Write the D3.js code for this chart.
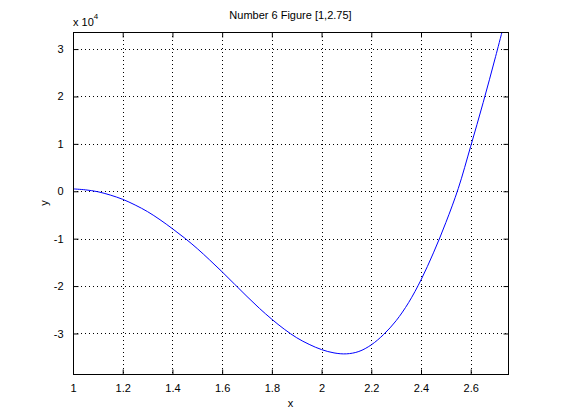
<!DOCTYPE html>
<html><head><meta charset="utf-8">
<script src="https://cdn.jsdelivr.net/npm/d3@7"></script>
<style>body{margin:0;background:#fff}svg{display:block}text{font-family:"Liberation Sans",Arial,sans-serif;font-size:11px;fill:#000}</style>
</head><body><svg id="c" width="561" height="420"></svg>
<script>
const xValues = [1.00,1.05,1.10,1.15,1.20,1.25,1.30,1.35,1.40,1.45,1.50,1.55,1.60,1.65,1.70,1.75,1.80,1.85,1.90,1.95,2.00,2.05,2.10,2.15,2.20,2.25,2.30,2.35,2.40,2.45,2.50,2.55,2.60,2.65,2.70,2.75];
const yValues = [0.05,0.03,-0.01,-0.08,-0.17,-0.29,-0.43,-0.60,-0.79,-0.99,-1.21,-1.45,-1.70,-1.96,-2.22,-2.47,-2.70,-2.91,-3.09,-3.23,-3.34,-3.41,-3.43,-3.38,-3.24,-3.02,-2.73,-2.35,-1.87,-1.30,-0.66,0.06,0.95,1.87,2.84,3.85].map(v=>v*1e4);
const xTicks = [1,1.2,1.4,1.6,1.8,2,2.2,2.4,2.6];
const yTicks = [-3e4,-2e4,-1e4,0,1e4,2e4,3e4];
const title = "Number 6 Figure [1,2.75]";

const L=73,R=508,T=32,B=374;
const svg=d3.select("#c");
const x=d3.scaleLinear().domain([1,2.75]).range([L,R]);
const y=d3.scaleLinear().domain([-3.855e4,3.36e4]).range([B,T]);

const grid=svg.append("g").attr("stroke","#000").attr("stroke-width",1).attr("stroke-dasharray","1,3");
xTicks.slice(1).forEach(t=>grid.append("line").attr("x1",Math.round(x(t))+0.5).attr("x2",Math.round(x(t))+0.5).attr("y1",T).attr("y2",B));
yTicks.forEach(t=>grid.append("line").attr("y1",Math.round(y(t))+0.5).attr("y2",Math.round(y(t))+0.5).attr("x1",L).attr("x2",R));

svg.append("defs").append("clipPath").attr("id","clip").append("rect").attr("x",L).attr("y",T).attr("width",R-L).attr("height",B-T);
const pts=xValues.map((v,i)=>[v,yValues[i]]);
svg.append("path").datum(pts).attr("clip-path","url(#clip)")
  .attr("d",d3.line().x(d=>x(d[0])).y(d=>y(d[1])).curve(d3.curveCatmullRom))
  .attr("fill","none").attr("stroke","#0000ff").attr("stroke-width",1);

const fmtY=d=>String(Math.round(d/1e4));
const ax=(g,axis)=>{g.call(axis);g.select(".domain").remove();g.selectAll("text").style("font-family",'"Liberation Sans",Arial,sans-serif').style("font-size","11px");};
svg.append("g").attr("transform",`translate(0,${B+0.5})`).call(g=>ax(g,d3.axisBottom(x).tickValues(xTicks).tickFormat(d=>String(d)).tickSizeInner(-5).tickPadding(10)));
svg.append("g").attr("transform",`translate(0,${T+0.5})`).call(g=>ax(g,d3.axisTop(x).tickValues(xTicks).tickFormat("").tickSizeInner(-5)));
svg.append("g").attr("transform",`translate(${L+0.5},0)`).call(g=>ax(g,d3.axisLeft(y).tickValues(yTicks).tickFormat(fmtY).tickSizeInner(-5).tickPadding(10)));
svg.append("g").attr("transform",`translate(${R+0.5},0)`).call(g=>ax(g,d3.axisRight(y).tickValues(yTicks).tickFormat("").tickSizeInner(-5)));
svg.selectAll(".tick line").attr("stroke","#000");

svg.append("rect").attr("x",L+0.5).attr("y",T+0.5).attr("width",R-L).attr("height",B-T).attr("fill","none").attr("stroke","#000");

svg.append("text").attr("x",(L+R)/2).attr("y",19).attr("text-anchor","middle").text(title);
const ex=svg.append("text").attr("x",73).attr("y",26);
ex.append("tspan").text("x 10");
ex.append("tspan").attr("dy",-7).style("font-size","8px").text("4");
svg.append("text").attr("transform",`translate(48,${(T+B)/2}) rotate(-90)`).attr("text-anchor","middle").text("y");
svg.append("text").attr("x",(L+R)/2).attr("y",407).attr("text-anchor","middle").text("x");
</script></body></html>
